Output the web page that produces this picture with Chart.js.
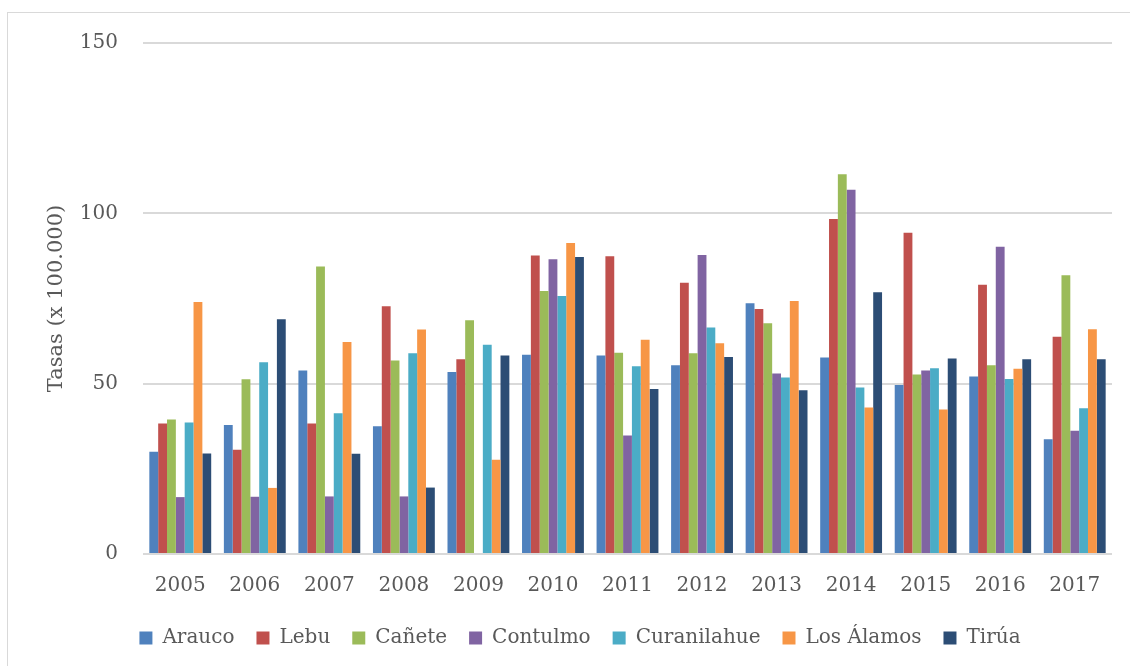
<!DOCTYPE html>
<html>
<head>
<meta charset="utf-8">
<script src="https://cdn.jsdelivr.net/npm/chart.js@4"></script>
<style>
  html, body { margin: 0; padding: 0; background: #ffffff; }
  #wrap { position: relative; width: 1130px; height: 666px; }
</style>
</head>
<body>
<div id="wrap"><canvas id="chart" width="1130" height="666"></canvas></div>
<script>
// Tasas por comuna (x 100.000), 2005-2017
const years = ['2005','2006','2007','2008','2009','2010','2011','2012','2013','2014','2015','2016','2017'];
const arauco      = [30.0, 37.9, 53.9, 37.5, 53.4, 58.5, 58.3, 55.4, 73.6, 57.7, 49.6, 52.1, 33.7];
const lebu        = [38.3, 30.6, 38.3, 72.7, 57.2, 87.6, 87.4, 79.6, 71.9, 98.3, 94.3, 79.0, 63.8];
const canete      = [39.5, 51.3, 84.4, 56.8, 68.6, 77.2, 59.1, 58.9, 67.7, 111.5, 52.7, 55.4, 81.8];
const contulmo    = [16.7, 16.8, 16.9, 16.9, null, 86.5, 34.8, 87.8, 53.0, 106.9, 53.9, 90.2, 36.2];
const curanilahue = [38.6, 56.3, 41.3, 58.9, 61.4, 75.7, 55.1, 66.5, 51.8, 48.9, 54.5, 51.4, 42.8];
const losAlamos   = [74.0, 19.4, 62.2, 65.9, 27.7, 91.3, 62.9, 61.9, 74.3, 43.0, 42.4, 54.4, 66.0];
const tirua       = [29.5, 68.9, 29.4, 19.5, 58.3, 87.2, 48.4, 57.8, 48.1, 76.8, 57.4, 57.2, 57.2];

const seriesNames = ['Arauco', 'Lebu', 'Cañete', 'Contulmo', 'Curanilahue', 'Los Álamos', 'Tirúa'];
const seriesData  = [arauco, lebu, canete, contulmo, curanilahue, losAlamos, tirua];
const seriesColors = ['#4F81BD', '#C0504D', '#9BBB59', '#8064A2', '#4BACC6', '#F79646', '#2C4D75'];

const yTitle = 'Tasas (x 100.000)';
const yMax = 150;
const yStep = 50;

const FONT = "'DejaVu Serif', serif";
const TEXT = '#595959';
const GRID = '#d9d9d9';

// light frame around the whole chart
const framePlugin = {
  id: 'frame',
  beforeDraw(chart) {
    const ctx = chart.ctx;
    ctx.save();
    ctx.strokeStyle = '#d9d9d9';
    ctx.lineWidth = 1;
    ctx.strokeRect(7.5, 12.5, 1140, 700);
    ctx.restore();
  }
};

new Chart(document.getElementById('chart'), {
  type: 'bar',
  data: {
    labels: years,
    datasets: seriesNames.map((name, i) => ({
      label: name,
      data: seriesData[i],
      backgroundColor: seriesColors[i],
      borderWidth: 0,
      categoryPercentage: 0.83,
      barPercentage: 1.0
    }))
  },
  options: {
    responsive: false,
    animation: false,
    devicePixelRatio: 1,
    layout: { padding: { left: 48, right: 18, top: 43, bottom: 8 } },
    plugins: {
      tooltip: { enabled: false },
      legend: {
        position: 'bottom',
        labels: {
          font: { family: FONT, size: 20 },
          color: TEXT,
          boxWidth: 13,
          boxHeight: 13,
          padding: 22
        }
      }
    },
    scales: {
      x: {
        grid: { display: false, drawTicks: false },
        border: { display: false },
        ticks: { font: { family: FONT, size: 20 }, color: TEXT, padding: 20 },
        afterFit(scale) { scale.height = 52; }
      },
      y: {
        min: 0,
        max: yMax,
        ticks: { stepSize: yStep, font: { family: FONT, size: 20 }, color: TEXT, padding: 25 },
        grid: { color: GRID, lineWidth: 2, drawTicks: false },
        border: { display: false },
        title: {
          display: true,
          text: yTitle,
          font: { family: FONT, size: 21 },
          color: TEXT,
          padding: { top: -4, bottom: 0 }
        },
        afterFit(scale) { scale.width = 95; }
      }
    }
  },
  plugins: [framePlugin]
});
</script>
</body>
</html>
